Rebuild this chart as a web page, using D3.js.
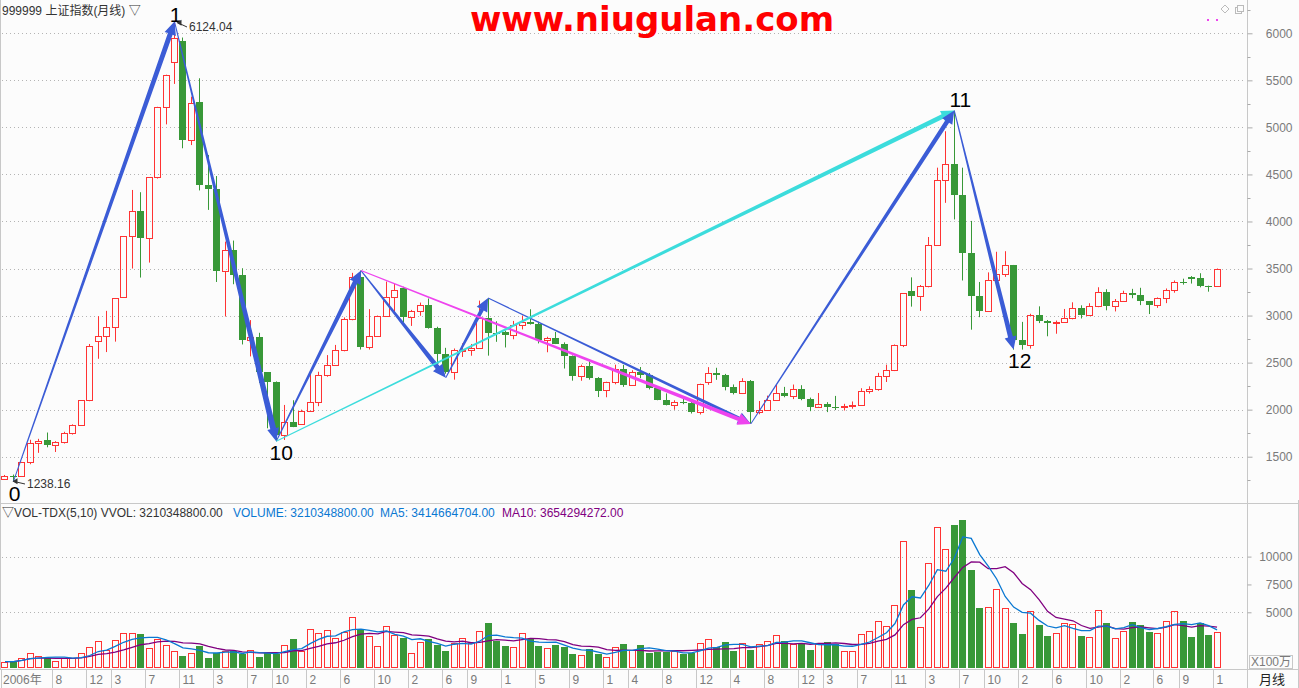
<!DOCTYPE html>
<html><head><meta charset="utf-8">
<script src="https://cdn.jsdelivr.net/npm/d3@7"></script>
<style>
html,body{margin:0;padding:0;background:#fcfcfc;overflow:hidden;}
svg{display:block;font-family:"Liberation Sans",Arial,"Noto Sans CJK SC",sans-serif;}
</style></head><body>
<svg id="c" width="1299" height="688"></svg>
<script>
// ---------------- DATA ----------------
// monthly candles 2006-02 .. 2018-01
const months = d3.timeMonth.range(new Date(2006,1,1), new Date(2018,1,1)).map(d3.timeFormat("%Y-%m"));
const open = [1262,1300,1300,1445,1641,1680,1625,1658,1752,1837,2099,2728,2786,2881,3196,3841,4109,3820,4471,5218,5692,5914,4871,5265,4383,4348,3472,3693,3433,2736,2775,2397,2293,1728,1871,
1849,1990,2082,2373,2477,2632,2959,3412,2667,2779,2995,3195,3289,2989,3051,3109,2870,2592,2398,2637,2638,2655,2978,2820,2825,2790,2905,2928,2911,2743,2762,2701,2567,2359,2468,2333,
2212,2292,2428,2262,2396,2372,2225,2103,2047,2086,2069,1980,2289,2385,2366,2237,2178,2301,1979,1994,2098,2175,2141,2220,2112,2033,2056,2033,2026,2039,2048,2201,2217,2363,2420,2683,
3258,3210,3311,3748,4441,4612,4277,3664,3206,3053,3383,3445,3536,2737,2688,3004,2938,2917,2930,2979,3085,3005,3100,3250,3105,3159,3242,3223,3155,3117,3192,3273,3361,3405,3403,3317,3314];
const high = [1306,1310,1445,1680,1690,1757,1665,1765,1844,2100,2698,2994,3050,3184,3841,4335,4311,4471,5219,5560,6124.04,5955,5326,5522,4707,4483,3786,3797,3503,2952,2817,2400,2300,2050,2100,
2000,2402,2403,2580,2688,2980,3454,3478,3068,3000,3361,3338,3306,3060,3138,3181,2881,2657,2650,2705,2698,3159,3186,2939,2840,2943,3000,3067,2935,2775,2826,2715,2576,2478,2536,2346,
2297,2478,2476,2419,2453,2390,2238,2173,2100,2136,2087,2276,2452,2445,2380,2268,2334,2315,2092,2149,2270,2242,2267,2260,2128,2177,2080,2146,2062,2087,2228,2248,2391,2478,2693,3239,
3406,3325,3835,4572,4959,5178,4572,4006,3357,3459,3678,3684,3538,2933,3019,3098,2953,2947,3070,3141,3109,3131,3301,3280,3176,3264,3284,3295,3155,3193,3288,3373,3392,3420,3450,3318,3500];
const low = [1254,1238.16,1295,1420,1541,1600,1550,1640,1735,1830,2090,2541,2612,2723,3196,3500,3404,3563,4456,5032,5462,4778,4812,4330,4123,3357,2990,3333,2693,2566,2284,1802,1664,1678,1814,
1844,1990,2037,2350,2470,2620,2950,2639,2639,2779,2995,3039,2890,2890,2998,2861,2481,2382,2319,2560,2573,2655,2574,2721,2661,2748,2853,2904,2704,2610,2697,2437,2308,2307,2319,2134,
2132,2270,2242,2254,2335,2215,2100,2045,1999,2058,1959,1949,2264,2317,2205,2162,2166,1849,1951,1994,2098,2132,2112,2100,1984,2032,1974,1996,1991,2010,2044,2171,2201,2294,2410,2665,
3095,3050,3300,3748,4198,4022,3373,2850,2983,3039,3327,3411,2638,2638,2649,2920,2780,2807,2929,2960,2969,3000,3089,3056,3044,3155,3184,3111,3016,3082,3132,3243,3329,3340,3300,3254,3314];
const close = [1299,1298,1440,1641,1672,1620,1658,1752,1837,2099,2675,2786,2881,3183,3841,4109,3820,4471,5218,5552,5954,4871,5261,4383,4348,3472,3693,3433,2736,2775,2397,2293,1728,1871,1820,
1990,2082,2373,2477,2632,2959,3412,2667,2779,2995,3195,3277,2989,3051,3109,2870,2592,2398,2638,2638,2655,2978,2820,2808,2790,2905,2928,2911,2743,2762,2701,2567,2359,2468,2333,2199,
2292,2428,2262,2396,2372,2225,2103,2047,2086,2069,1980,2269,2385,2366,2237,2178,2301,1979,1994,2098,2175,2141,2220,2116,2033,2056,2033,2026,2039,2048,2201,2217,2363,2420,2683,3235,
3210,3311,3748,4441,4612,4277,3664,3206,3053,3383,3445,3539,2737,2688,3004,2938,2917,2930,2979,3085,3005,3100,3250,3104,3159,3242,3223,3155,3117,3192,3273,3361,3349,3393,3317,3307,3500];
// volume, unit X100万
const volume = [576,576,909,1303,1091,879,667,909,879,1303,1848,2454,1576,2545,3121,3182,3060,1818,2576,2030,1485,1121,1364,1939,939,1364,1515,1485,1212,1636,1030,1333,1242,2091,2576,
1485,3545,3182,3454,2727,3272,4545,3454,2909,2000,3727,3000,2666,1364,2363,2576,2030,1485,2212,2727,2242,3363,4030,2394,1939,1909,3182,2636,1939,1818,2030,1879,1212,1182,1667,1212,
1000,1909,2121,1636,2030,1303,1394,1394,1485,1212,1303,2272,2636,1848,2303,1515,2272,1576,2182,2454,3000,2394,2182,2182,1576,2182,2303,2182,1545,1545,3030,3363,4182,3727,5666,11363,
7030,3636,9454,12636,10666,12848,13242,8757,5394,5484,7090,5363,4030,3030,5090,3848,2848,3182,4000,3909,2848,2818,5181,4030,2727,3363,4121,3848,3212,3182,4212,5090,4212,2757,4000,2939,3210];
const priceTicks = [1500,2000,2500,3000,3500,4000,4500,5000,5500,6000];
const volTicks = [5000,7500,10000];
const xTickMonths = ["2006-02","2006-08","2006-12","2007-03","2007-07","2007-11","2008-03","2008-07","2008-10","2009-02","2009-06","2009-10","2010-02","2010-06","2010-09","2011-01","2011-05","2011-09","2012-01","2012-04","2012-08","2012-12","2013-04","2013-08","2013-12","2014-03","2014-07","2014-11","2015-03","2015-07","2015-10","2016-02","2016-06","2016-10","2017-02","2017-06","2017-09","2018-01"];
const xTickLabels = ["2006年","8","12","3","7","11","3","7","10","2","6","10","2","6","9","1","5","9","1","4","8","12","4","8","12","3","7","11","3","7","10","2","6","10","2","6","9","1"];
// wave lines: [from month, from value, to month, to value]
const waveLines = [
 ["2006-03",1238.16,"2007-10",6124.04],
 ["2007-10",6124.04,"2008-10",1664],
 ["2008-10",1664,"2009-08",3478],
 ["2009-08",3478,"2010-06",2340],
 ["2010-06",2340,"2010-11",3186],
 ["2010-11",3186,"2013-06",1849],
 ["2009-08",3478,"2013-06",1849],
 ["2008-10",1664,"2015-06",5178],
 ["2013-06",1849,"2015-06",5178],
 ["2015-06",5178,"2016-01",2638]
];
const waveNames = [["0","2006-03",1238.16],["1","2007-10",6124.04],["10","2008-10",1664],["11","2015-06",5178],["12","2016-01",2638]];

// ---------------- STYLE / LAYOUT ----------------
const RED="#ff3333", GREEN="#389838", BLUE="#3b5cd6", CYAN="#3cdcdc", MAG="#ee44ee";
const waveColors=[BLUE,BLUE,BLUE,BLUE,BLUE,BLUE,MAG,CYAN,BLUE,BLUE];
const waveWidths=[5,6,5,5,4,3.5,4,4.5,4.5,5];
const axisX=1247.5, plotR=1245;
const svg=d3.select("#c");
svg.append("rect").attr("width",1299).attr("height",688).attr("fill","#fcfcfc");

const x=d3.scaleBand().domain(months).range([0.76,0.76+144*8.476]);
const cx=m=>x(m)+x.bandwidth()/2;
const y=d3.scaleLinear().domain([1500,6000]).range([456.7,33.3]);
const yv=d3.scaleLinear().domain([0,10000]).range([668,556.6]);

// frame lines
const frame=svg.append("g").attr("stroke","#c8c8c8").attr("stroke-width",1).attr("fill","none");
frame.append("line").attr("x1",0.5).attr("x2",0.5).attr("y1",0).attr("y2",669);
frame.append("line").attr("x1",axisX).attr("x2",axisX).attr("y1",0).attr("y2",688);
frame.append("line").attr("x1",0).attr("x2",1299).attr("y1",503.5).attr("y2",503.5);
frame.append("line").attr("x1",0).attr("x2",1299).attr("y1",669.5).attr("y2",669.5);
frame.append("line").attr("x1",1298.5).attr("x2",1298.5).attr("y1",500).attr("y2",688);

// grid price
const grid=svg.append("g").attr("stroke","#b4b4b4").attr("stroke-dasharray","1,3");
priceTicks.forEach(t=>grid.append("line").attr("x1",2).attr("x2",plotR).attr("y1",Math.round(y(t))+0.5).attr("y2",Math.round(y(t))+0.5));
[5000,10000].forEach(t=>grid.append("line").attr("x1",2).attr("x2",plotR).attr("y1",Math.round(yv(t))+0.5).attr("y2",Math.round(yv(t))+0.5));

// right axes
const yAxis=d3.axisRight(y).tickValues(priceTicks).tickSize(5).tickFormat(d3.format("d"));
const ga=svg.append("g").attr("transform",`translate(${axisX},0)`).call(yAxis);
ga.select(".domain").remove();
ga.selectAll("line").attr("stroke","#aaa");
ga.selectAll("text").attr("x",45).attr("text-anchor","end").attr("fill","#7a7a7a").attr("font-size",12).attr("font-family","Liberation Sans, Arial");
const minor=d3.range(1250,6251,500);
svg.append("g").selectAll("line").data(minor).join("line").attr("x1",axisX).attr("x2",axisX+3).attr("y1",d=>Math.round(y(d))+0.5).attr("y2",d=>Math.round(y(d))+0.5).attr("stroke","#aaa");
const vAxis=d3.axisRight(yv).tickValues(volTicks).tickSize(4).tickFormat(d3.format("d"));
const gv=svg.append("g").attr("transform",`translate(${axisX},0)`).call(vAxis);
gv.select(".domain").remove();
gv.selectAll("line").attr("stroke","#aaa");
gv.selectAll("text").attr("x",45).attr("text-anchor","end").attr("fill","#7a7a7a").attr("font-size",12);

// candles
const gc=svg.append("g");
months.forEach((m,i)=>{
  const L=Math.round(cx(m)-3.5), xc=L+3.5;
  const o=open[i],h=high[i],l=low[i],c=close[i];
  const yt=Math.round(y(Math.max(o,c))), yb=Math.round(y(Math.min(o,c)));
  if(c>o){
    gc.append("line").attr("x1",xc).attr("x2",xc).attr("y1",y(h)).attr("y2",yt).attr("stroke",RED);
    gc.append("line").attr("x1",xc).attr("x2",xc).attr("y1",yb).attr("y2",y(l)).attr("stroke",RED);
    gc.append("rect").attr("x",L+0.5).attr("y",yt+0.5).attr("width",6).attr("height",Math.max(1,yb-yt)).attr("fill","none").attr("stroke",RED);
  } else {
    gc.append("line").attr("x1",xc).attr("x2",xc).attr("y1",y(h)).attr("y2",y(l)).attr("stroke",GREEN);
    gc.append("rect").attr("x",L).attr("y",yt).attr("width",7).attr("height",Math.max(1,yb-yt)).attr("fill",GREEN);
  }
});

// volume bars
const gvb=svg.append("g");
months.forEach((m,i)=>{
  const L=Math.round(cx(m)-3.5);
  const top=Math.round(yv(volume[i])), base=668;
  if(close[i]>open[i]) gvb.append("rect").attr("x",L+0.5).attr("y",top+0.5).attr("width",6).attr("height",base-top-1).attr("fill","none").attr("stroke",RED);
  else gvb.append("rect").attr("x",L).attr("y",top).attr("width",7).attr("height",base-top).attr("fill",GREEN);
});
function ma(arr,n){return arr.map((v,i)=>d3.mean(arr.slice(Math.max(0,i-n+1),i+1)));}
const ma5=ma(volume,5), ma10=ma(volume,10);
const ln=d3.line().x((d,i)=>cx(months[i])).y(d=>yv(d));
svg.append("path").attr("d",ln(ma10)).attr("fill","none").attr("stroke","#800080").attr("stroke-width",1.3);
svg.append("path").attr("d",ln(ma5)).attr("fill","none").attr("stroke","#0a78d2").attr("stroke-width",1.3);

// wave arrows (tapered)
function taper(p0,p1,w0,w1,hl,hw){
  const dx=p1[0]-p0[0], dy=p1[1]-p0[1], len=Math.hypot(dx,dy), ux=dx/len, uy=dy/len, nx=-uy, ny=ux;
  const b=[p1[0]-ux*hl,p1[1]-uy*hl];
  const P=(p,k)=>[p[0]+nx*k,p[1]+ny*k];
  const pts=[P(p0,w0/2),P(b,w1/2),P(b,hw),p1,P(b,-hw),P(b,-w1/2),P(p0,-w0/2)];
  return "M"+pts.map(p=>p[0].toFixed(1)+","+p[1].toFixed(1)).join("L")+"Z";
}
const gw=svg.append("g");
waveLines.forEach((w,k)=>{
  const p0=[cx(w[0]),y(w[1])], p1=[cx(w[2]),y(w[3])];
  gw.append("path").attr("d",taper(p0,p1,1,waveWidths[k],13,6)).attr("fill",waveColors[k]);
});
const labelOff={"0":[1,19.5],"1":[1,0.5],"10":[5,19],"11":[6,-4],"12":[6,18]};
waveNames.forEach(n=>{
  const o=labelOff[n[0]];
  svg.append("text").attr("x",cx(n[1])+o[0]).attr("y",y(n[2])+o[1]).attr("text-anchor","middle").attr("font-size",21).attr("fill","#000").text(n[0]);
});
// high/low markers
function marker(xp,yp,tx,ty,label){
  svg.append("line").attr("x1",tx-2).attr("y1",ty-4).attr("x2",xp+1).attr("y2",yp).attr("stroke","#333");
  svg.append("path").attr("d",`M${xp},${yp}l5,-3l0,6z`).attr("fill","#333");
  svg.append("text").attr("x",tx).attr("y",ty).attr("font-size",12).attr("fill","#333").text(label);
}
marker(cx("2006-03")-1,y(1238.16),27,488,"1238.16");
marker(cx("2007-10")+2,y(6124.04)+1,189,31,"6124.04");

// x axis
const gx=svg.append("g");
xTickMonths.forEach((m,k)=>{
  const tx=Math.round(x(m))+0.5;
  gx.append("line").attr("x1",tx).attr("x2",tx).attr("y1",670).attr("y2",688).attr("stroke","#c8c8c8");
  gx.append("text").attr("x",k===0?3:tx+3).attr("y",684).attr("font-size",12).attr("fill","#7a7a7a").text(xTickLabels[k]);
});
svg.append("text").attr("x",1272).attr("y",684).attr("text-anchor","middle").attr("font-size",13).attr("fill","#222").attr("font-family","Noto Sans CJK SC").text("月线");
svg.append("rect").attr("x",1249.5).attr("y",655.5).attr("width",43).attr("height",13).attr("fill","none").attr("stroke","#c8c8c8");
svg.append("text").attr("x",1271).attr("y",666).attr("text-anchor","middle").attr("font-size",12).attr("fill","#7a7a7a").text("X100万");

// headers
svg.append("text").attr("x",2).attr("y",15).attr("font-size",12).attr("fill","#333").text("999999 上证指数(月线) ▽");
const hv=svg.append("text").attr("x",2).attr("y",517).attr("font-size",12);
hv.append("tspan").attr("fill","#333").text("▽VOL-TDX(5,10) VVOL: 3210348800.00");
hv.append("tspan").attr("x",233).attr("fill","#0a78d2").text("VOLUME: 3210348800.00");
hv.append("tspan").attr("x",380).attr("fill","#0a78d2").text("MA5: 3414664704.00");
hv.append("tspan").attr("x",502).attr("fill","#800080").text("MA10: 3654294272.00");
// watermark
svg.append("text").attr("x",652).attr("y",31).attr("text-anchor","middle").attr("font-family","DejaVu Sans").attr("font-weight","bold").attr("font-size",34).attr("fill","#ff0000").text("www.niugulan.com");
// top-right icons
svg.append("path").attr("d","M1225,5l4,4l-4,4l-4,-4z").attr("fill","none").attr("stroke","#bbb");
svg.append("rect").attr("x",1235.5).attr("y",7.5).attr("width",6).attr("height",6).attr("fill","none").attr("stroke","#bbb");
svg.append("rect").attr("x",1237.5).attr("y",5.5).attr("width",6).attr("height",6).attr("fill","#fcfcfc").attr("stroke","#bbb");
svg.append("rect").attr("x",1207).attr("y",19).attr("width",2).attr("height",2).attr("fill",MAG);
svg.append("rect").attr("x",1216).attr("y",19).attr("width",2).attr("height",2).attr("fill",MAG);
</script></body></html>
